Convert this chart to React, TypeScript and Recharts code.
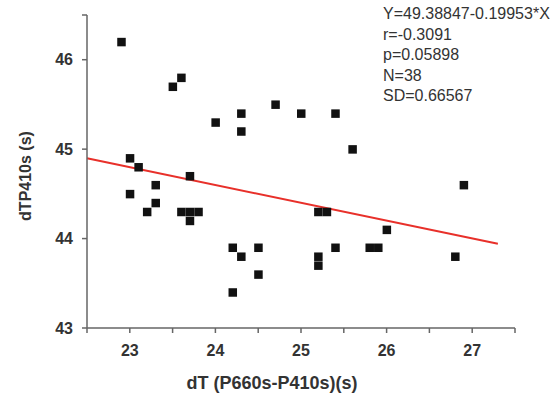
import {
  ScatterChart,
  Scatter,
  XAxis,
  YAxis,
  ReferenceLine,
} from "recharts";

const dtValues = [
  22.9, 23.5, 23.6, 24.0, 24.3, 24.3, 24.7, 25.0, 25.4, 25.6,
  23.0, 23.1, 23.7, 23.3, 23.0, 23.3, 23.2, 23.6, 23.7, 23.8,
  23.7, 24.2, 24.3, 24.5, 24.5, 24.2, 26.9, 25.2, 25.3, 26.0,
  25.4, 25.8, 25.9, 25.2, 25.2, 26.8,
];
const dtp410Values = [
  46.2, 45.7, 45.8, 45.3, 45.4, 45.2, 45.5, 45.4, 45.4, 45.0,
  44.9, 44.8, 44.7, 44.6, 44.5, 44.4, 44.3, 44.3, 44.3, 44.3,
  44.2, 43.9, 43.8, 43.9, 43.6, 43.4, 44.6, 44.3, 44.3, 44.1,
  43.9, 43.9, 43.9, 43.8, 43.7, 43.8,
];

const intercept = 49.38847;
const slope = -0.19953;
const fitRange = [22.5, 27.3];

const xTicks = [22.5, 23, 23.5, 24, 24.5, 25, 25.5, 26, 26.5, 27, 27.5];
const yTicks = [43, 44, 45, 46, 46.5];

const statLines = [
  "Y=49.38847-0.19953*X",
  "r=-0.3091",
  "p=0.05898",
  "N=38",
  "SD=0.66567",
];

const points = dtValues.map((x, i) => ({ x, y: dtp410Values[i] }));

const font = "'Liberation Sans', Arial, sans-serif";
const axisColor = "#666";

const Square = (props: any) => {
  const { cx, cy } = props;
  return <rect x={cx - 4} y={cy - 4} width={8.5} height={8.5} fill="#111" />;
};

const intLabel = (v: number) => (Number.isInteger(v) ? String(v) : "");

export default function App() {
  return (
    <div
      style={{
        position: "absolute",
        left: 0,
        top: 0,
        width: 552,
        height: 412,
        background: "#fff",
        fontFamily: font,
      }}
    >
      <ScatterChart
        width={552}
        height={412}
        margin={{ top: 15, right: 37, bottom: 0, left: 27 }}
      >
        <XAxis
          type="number"
          dataKey="x"
          domain={[22.5, 27.5]}
          ticks={xTicks}
          tickFormatter={intLabel}
          height={84}
          stroke={axisColor}
          strokeWidth={1.5}
          tickSize={5}
          tickMargin={12}
          tick={{ fill: "#333", fontSize: 16, fontWeight: "bold", fontFamily: font }}
          interval={0}
          label={{
            content: () => (
              <text
                x={272}
                y={389}
                textAnchor="middle"
                fill="#333"
                fontSize={18}
                fontWeight="bold"
                fontFamily={font}
              >
                dT (P660s-P410s)(s)
              </text>
            ),
          }}
        />
        <YAxis
          type="number"
          dataKey="y"
          domain={[43, 46.5]}
          ticks={yTicks}
          tickFormatter={intLabel}
          width={60}
          stroke={axisColor}
          strokeWidth={1.5}
          tickSize={5}
          tickMargin={9}
          tick={{ fill: "#333", fontSize: 16, fontWeight: "bold", fontFamily: font }}
          interval={0}
          label={{
            content: () => (
              <text
                x={31}
                y={176}
                transform="rotate(-90 31 176)"
                textAnchor="middle"
                fill="#333"
                fontSize={16}
                fontWeight="bold"
                fontFamily={font}
              >
                dTP410s (s)
              </text>
            ),
          }}
        />
        <Scatter
          data={points}
          shape={Square}
          isAnimationActive={false}
        />
        <ReferenceLine
          segment={[
            { x: fitRange[0], y: intercept + slope * fitRange[0] },
            { x: fitRange[1], y: intercept + slope * fitRange[1] },
          ]}
          stroke="#e8302a"
          strokeWidth={2}
          ifOverflow="visible"
        />
      </ScatterChart>
      <div
        style={{
          position: "absolute",
          left: 383,
          top: 4,
          fontSize: 16,
          lineHeight: "20.5px",
          color: "#333",
          whiteSpace: "nowrap",
        }}
      >
        {statLines.map((s) => (
          <div key={s}>{s}</div>
        ))}
      </div>
    </div>
  );
}
